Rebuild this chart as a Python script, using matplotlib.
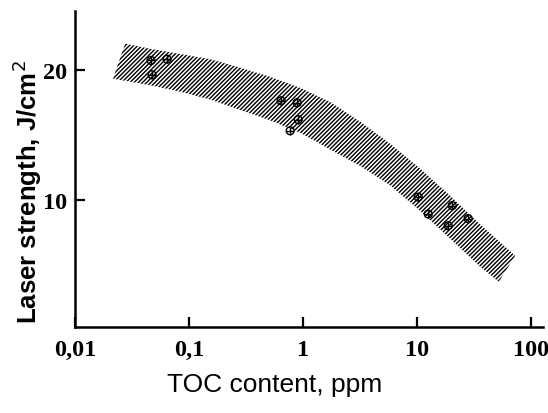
import matplotlib

matplotlib.use("Agg")
import matplotlib.pyplot as plt
import numpy as np

# upper and lower edges of the hatched band (TOC ppm, J/cm2)
upper_x = [0.0275, 0.0455, 0.0834, 0.153, 0.280, 0.513, 0.941, 1.73, 3.16, 5.80, 10.6, 19.5, 35.7, 72.4]
upper_y = [22.0, 21.6, 21.2, 20.8, 20.15, 19.45, 18.6, 17.5, 16.0, 14.3, 12.4, 10.3, 8.1, 5.7]
lower_x = [0.0215, 0.0455, 0.0834, 0.153, 0.280, 0.513, 0.941, 1.73, 3.16, 5.80, 10.6, 19.5, 35.7, 52.0]
lower_y = [19.3, 18.8, 18.3, 17.7, 16.9, 16.1, 15.15, 13.85, 12.6, 11.1, 9.15, 7.0, 4.85, 3.7]

# measured points
pts_x = [0.0464, 0.064, 0.0473, 0.641, 0.886, 0.904, 0.769, 10.2, 12.5, 20.3, 18.7, 28.0]
pts_y = [20.7, 20.8, 19.6, 17.6, 17.45, 16.15, 15.3, 10.2, 8.9, 9.55, 8.0, 8.55]

xticks = [0.01, 0.1, 1, 10, 100]
xtick_labels = ["0,01", "0,1", "1", "10", "100"]
yticks = [10, 20]

plt.rcParams["hatch.linewidth"] = 1.0
plt.rcParams["hatch.color"] = "black"

fig = plt.figure(figsize=(5.48, 4.14), dpi=100)
ax = fig.add_axes([0.137, 0.208, 0.854, 0.763])

poly_x = list(upper_x) + list(lower_x[::-1])
poly_y = list(upper_y) + list(lower_y[::-1])
ax.fill(poly_x, poly_y, facecolor="white", edgecolor="black", hatch="////////", linewidth=0)

ax.scatter(pts_x, pts_y, s=32, facecolors="none", edgecolors="black", linewidths=1.0, zorder=3)
ax.scatter(pts_x, pts_y, s=32, marker="+", color="black", linewidths=1.0, zorder=3)

ax.set_xscale("log")
ax.set_xlim(0.01, 127)
ax.set_ylim(0.23, 24.5)
ax.set_xticks(xticks)
ax.set_xticklabels(xtick_labels)
ax.set_yticks(yticks)
ax.minorticks_off()

for s in ("top", "right"):
    ax.spines[s].set_visible(False)
for s in ("left", "bottom"):
    ax.spines[s].set_linewidth(1.8)

ax.tick_params(axis="both", direction="in", length=7, width=1.6, labelsize=17.5)
ax.tick_params(axis="x", pad=9)
ax.tick_params(axis="y", pad=6)
for lab in ax.get_xticklabels() + ax.get_yticklabels():
    lab.set_fontfamily("Liberation Serif")
    lab.set_fontweight("bold")

ax.set_xlabel("TOC content, ppm", fontsize=19, family="Liberation Sans")
ax.xaxis.set_label_coords(0.427, -0.142)
ax.set_ylabel("Laser strength, J/cm$^2$", fontsize=18.5, family="Liberation Sans",
              fontweight="bold")
ax.yaxis.set_label_coords(-0.066, 0.43)

fig.savefig("out.png", dpi=100)
